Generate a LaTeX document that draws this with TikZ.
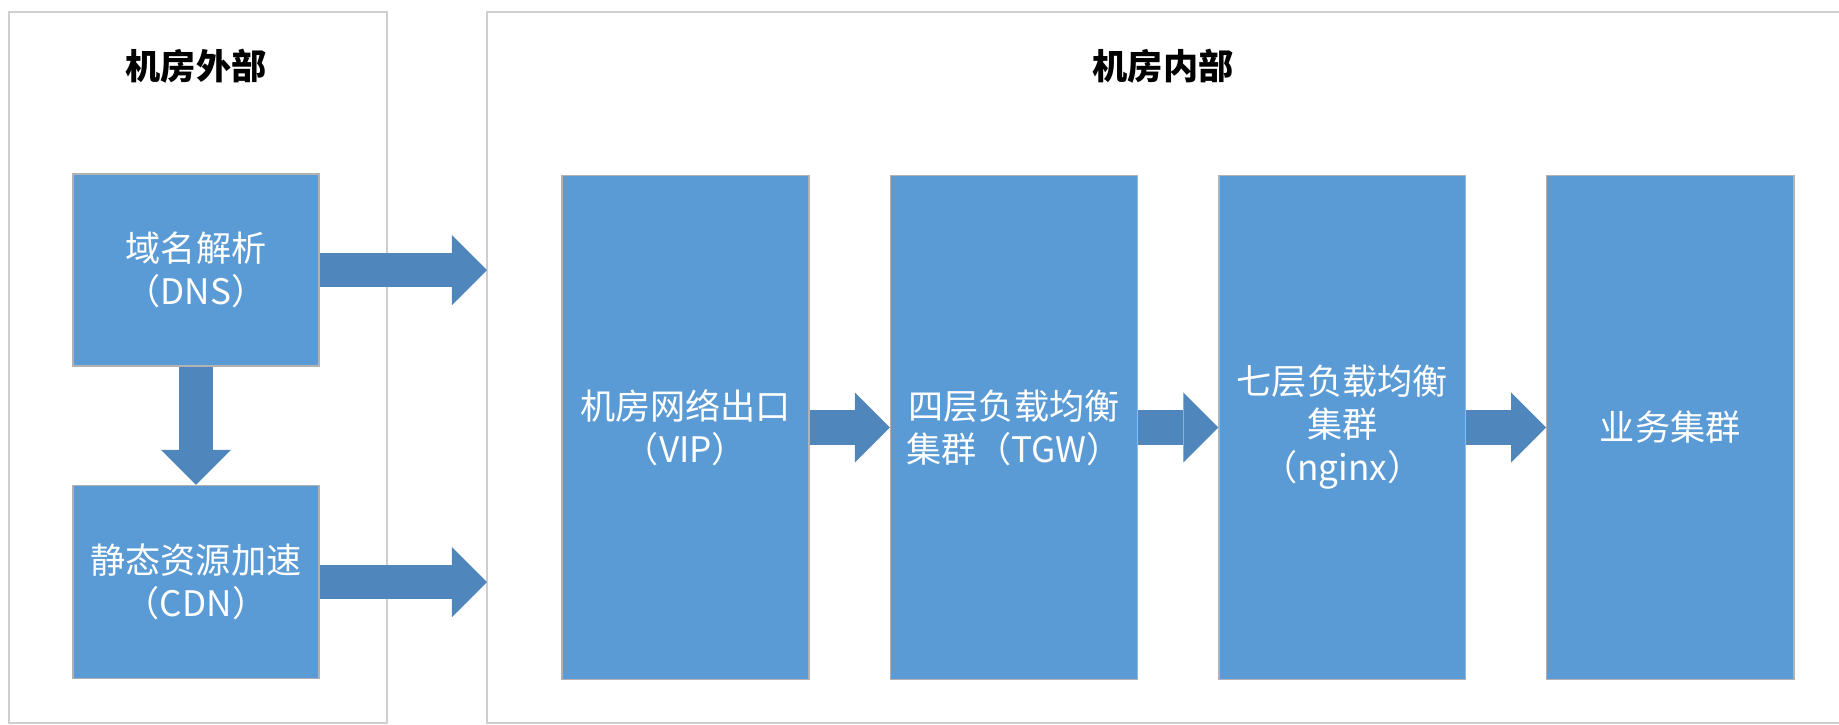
\documentclass[tikz,border=0pt]{standalone}
\usepackage{fontspec}
\setmainfont{Noto Sans CJK SC}
\usetikzlibrary{positioning,arrows.meta}
\definecolor{boxblue}{HTML}{5B9BD5}
\definecolor{arrowblue}{HTML}{4F87BC}
\definecolor{wallgray}{HTML}{CFCFCF}
\tikzset{
  block/.style={rectangle,fill=boxblue,draw=black!30,line width=0.4pt,text=white,
    align=center,inner sep=0pt,font=\fontsize{10}{12.2}\selectfont},
  fat/.style={draw=arrowblue,line width=0.34cm,
    -{Triangle[width=0.7cm,length=0.35cm,line width=0pt]}},
  wall/.style={draw=wallgray,line width=0.7pt},
  roomtitle/.style={font=\fontsize{10}{12}\selectfont\bfseries}
}
\begin{document}
\begin{tikzpicture}[x=0.01cm,y=-0.01cm]
\useasboundingbox (0,0) rectangle (1839,724);
% the two rooms
\draw[wall] (9,12) rectangle (387,723);
\draw[wall] (1839,12) -- (487,12) -- (487,723) -- (1839,723);
\coordinate (inwall) at (487,0);
\node[roomtitle] (outtitle) at (196,66) {机房外部};
\node[roomtitle] (intitle) at (1163,66) {机房内部};
% outside the room
\node[block,minimum width=2.46cm,minimum height=1.92cm] (dns) at (196,270) {域名解析\\（DNS）};
\node[block,minimum width=2.46cm,minimum height=1.93cm,below=1.18cm of dns] (cdn) {静态资源加速\\（CDN）};
% inside the room
\node[block,minimum width=2.47cm,minimum height=5.04cm] (vip) at (685.5,427.5) {机房网络出口\\（VIP）};
\node[block,minimum width=2.47cm,minimum height=5.04cm,right=0.8cm of vip] (tgw) {四层负载均衡\\集群（TGW）};
\node[block,minimum width=2.46cm,minimum height=5.04cm,right=0.8cm of tgw] (ngx) {七层负载均衡\\集群\\（nginx）};
\node[block,minimum width=2.47cm,minimum height=5.04cm,right=0.8cm of ngx] (biz) {业务集群};
% the block arrows
\draw[fat] (dns) -- (cdn);
\draw[fat] (dns) -- (dns -| inwall);
\draw[fat] (cdn) -- (cdn -| inwall);
\foreach \a/\b in {vip/tgw,tgw/ngx,ngx/biz}
  \draw[fat] (\a) -- (\b);
\end{tikzpicture}
\end{document}
